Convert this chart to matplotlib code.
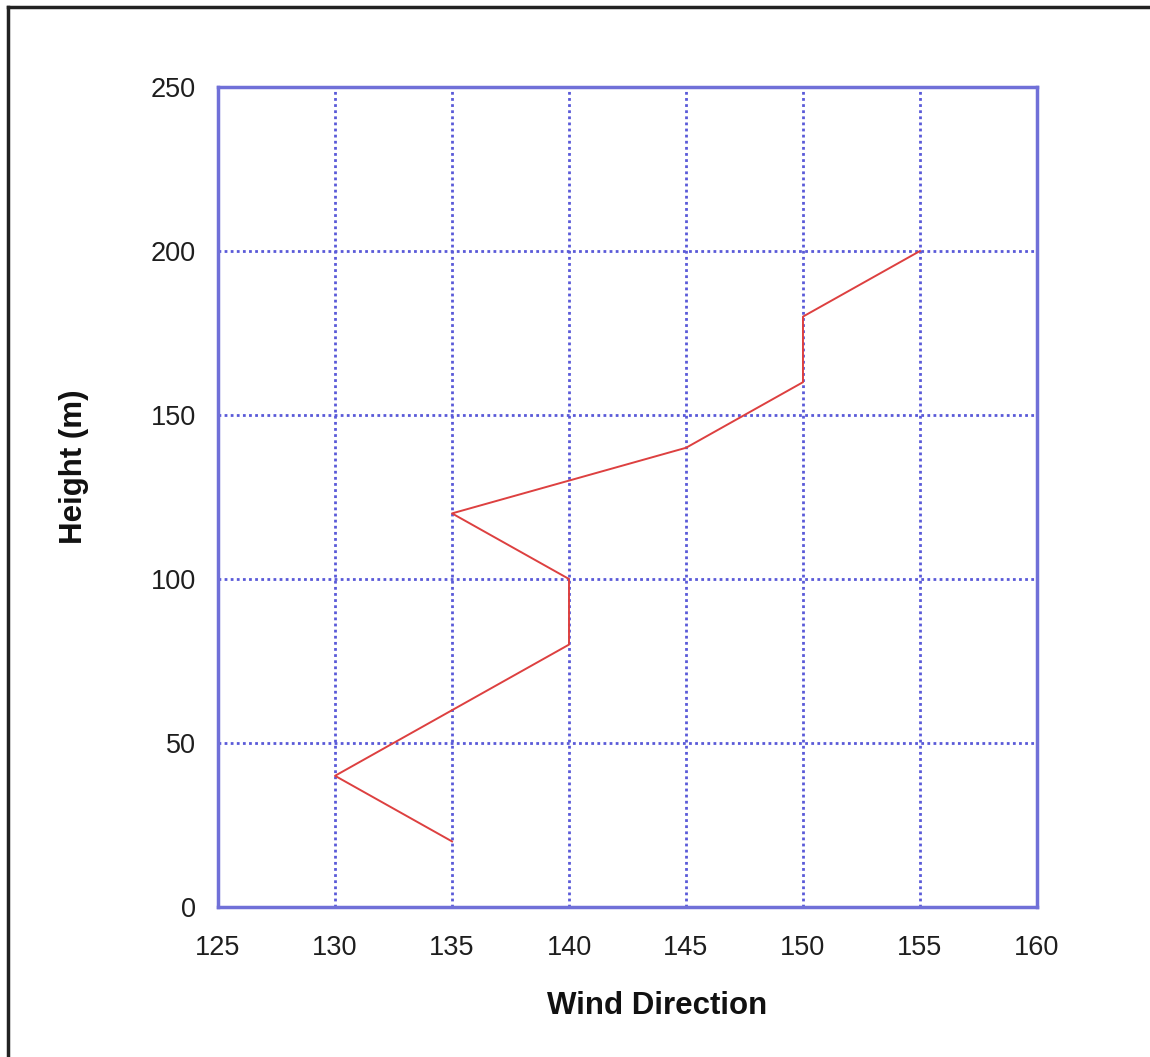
import matplotlib
matplotlib.use('Agg')
import matplotlib.pyplot as plt
from matplotlib.lines import Line2D

# wind profile
height = [20, 40, 60, 80, 100, 120, 140, 160, 180, 200]
direction = [135, 130, 135, 140, 140, 135, 145, 150, 150, 155]

plt.rcParams['font.family'] = ['Liberation Sans', 'DejaVu Sans']

fig = plt.figure(figsize=(11.5, 10.57), dpi=100)
ax = fig.add_axes([0.1896, 0.1419, 0.7121, 0.7758])

ax.plot(direction, height, color='#dd4040', lw=1.4, zorder=3)

ax.set_xlim(125, 160)
ax.set_ylim(0, 250)
ax.set_xticks(range(125, 161, 5))
ax.set_yticks(range(0, 251, 50))
ax.grid(True, color='#5a5ad8', linestyle=(0, (1, 1.2)), lw=2)
ax.tick_params(length=0, labelsize=19.5, colors='#1e1e1e')
ax.tick_params(axis='x', pad=20)
ax.tick_params(axis='y', pad=16)
for s in ax.spines.values():
    s.set_color('#7070d8')
    s.set_linewidth(2.5)

# labels sit a bit off-centre in the original
ax.set_xlabel('Wind Direction', fontsize=22.5, fontweight='bold', labelpad=22,
              color='#111111', x=0.536)
ax.set_ylabel('Height (m)', fontsize=22.5, fontweight='bold', labelpad=44,
              color='#111111', y=0.537)

# outer frame, left and top only
fig.add_artist(Line2D([0.007, 0.007], [0, 0.9935], color='#222222', lw=2.5,
                      transform=fig.transFigure))
fig.add_artist(Line2D([0.007, 1], [0.9935, 0.9935], color='#222222', lw=2.5,
                      transform=fig.transFigure))

fig.savefig('out.png', dpi=100)
